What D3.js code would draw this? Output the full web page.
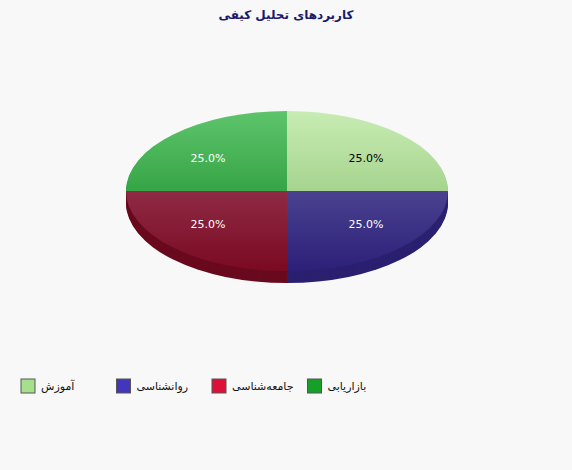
<!DOCTYPE html>
<meta charset="utf-8">
<head>
  <style>
    body { margin: 0; background: #f8f8f8; }
    svg { font-family: "DejaVu Sans", sans-serif; }
  </style>
</head>
<body>
  <script src="https://d3js.org/d3.v7.min.js"></script>
  <div id="chart"></div>
  <script>
    var categories = ["آموزش", "روانشناسی", "جامعه‌شناسی", "بازاریابی"];
    var values = [25, 25, 25, 25];
    var topColors = [["#c8ecb4", "#a6d48e"], ["#4a4290", "#2c1f78"], ["#8f2a45", "#7a0a22"], ["#5ec46c", "#36a546"]];
    var sideColors = ["#8fbf7a", "#2a2070", "#6a0a1e", "#2b8a38"];
    var legendColors = ["#a6e08e", "#4436bc", "#dc1038", "#16a028"];
    var labelColors = ["#000", "#fff", "#fff", "#fff"];

    var width = 572, height = 470;
    var cx = 287, cy = 191, rx = 161, ry = 80, depth = 12;

    var svg = d3.select('#chart').append('svg')
      .attr('width', width).attr('height', height);

    svg.append('text').attr('x', width / 2).attr('y', 19)
      .attr('text-anchor', 'middle').attr('font-size', 12).attr('font-weight', 'bold')
      .attr('fill', '#1a1a6e').text('کاربردهای تحلیل کیفی');

    var defs = svg.append('defs');
    topColors.forEach(function (c, i) {
      var g = defs.append('linearGradient').attr('id', 'g' + i)
        .attr('x1', 0).attr('y1', 0).attr('x2', 0).attr('y2', 1);
      g.append('stop').attr('offset', '0%').attr('stop-color', c[0]);
      g.append('stop').attr('offset', '100%').attr('stop-color', c[1]);
    });

    var pie = d3.pie().sort(null).value(function (d) { return d; });
    var arcs = pie(values);
    var arc = d3.arc().innerRadius(0).outerRadius(rx);

    // side walls
    var side = svg.append('g');
    d3.range(depth, 0, -1).forEach(function (off) {
      side.append('g').attr('transform', 'translate(' + cx + ',' + (cy + off) + ') scale(1,' + (ry / rx) + ')')
        .selectAll('path').data(arcs).enter().append('path')
        .attr('d', arc).attr('fill', function (d, i) { return sideColors[i]; });
    });

    var face = svg.append('g').attr('transform', 'translate(' + cx + ',' + cy + ') scale(1,' + (ry / rx) + ')');
    face.selectAll('path').data(arcs).enter().append('path')
      .attr('d', arc).attr('fill', function (d, i) { return 'url(#g' + i + ')'; });

    var labelArc = d3.arc().innerRadius(rx * 0.62).outerRadius(rx * 0.62);
    svg.append('g').selectAll('text').data(arcs).enter().append('text')
      .attr('x', function (d) { return cx + labelArc.centroid(d)[0] * 1.12; })
      .attr('y', function (d) { return cy + labelArc.centroid(d)[1] * (ry / rx) * 0.95 + 4; })
      .attr('text-anchor', 'middle').attr('font-size', 11)
      .attr('fill', function (d, i) { return labelColors[i]; })
      .text(function (d) { return d3.format('.1f')(d.value / d3.sum(values) * 100) + '%'; });

    var legend = svg.append('g').selectAll('g').data(categories).enter().append('g')
      .attr('transform', function (d, i) { return 'translate(' + (21 + i * 95.5) + ',379)'; });
    legend.append('rect').attr('width', 14).attr('height', 14)
      .attr('fill', function (d, i) { return legendColors[i]; }).attr('stroke', '#555');
    legend.append('text').attr('x', 20).attr('y', 11).attr('font-size', 11).attr('fill', '#111')
      .attr('direction', 'ltr').text(function (d) { return d; });
  </script>
</body>
